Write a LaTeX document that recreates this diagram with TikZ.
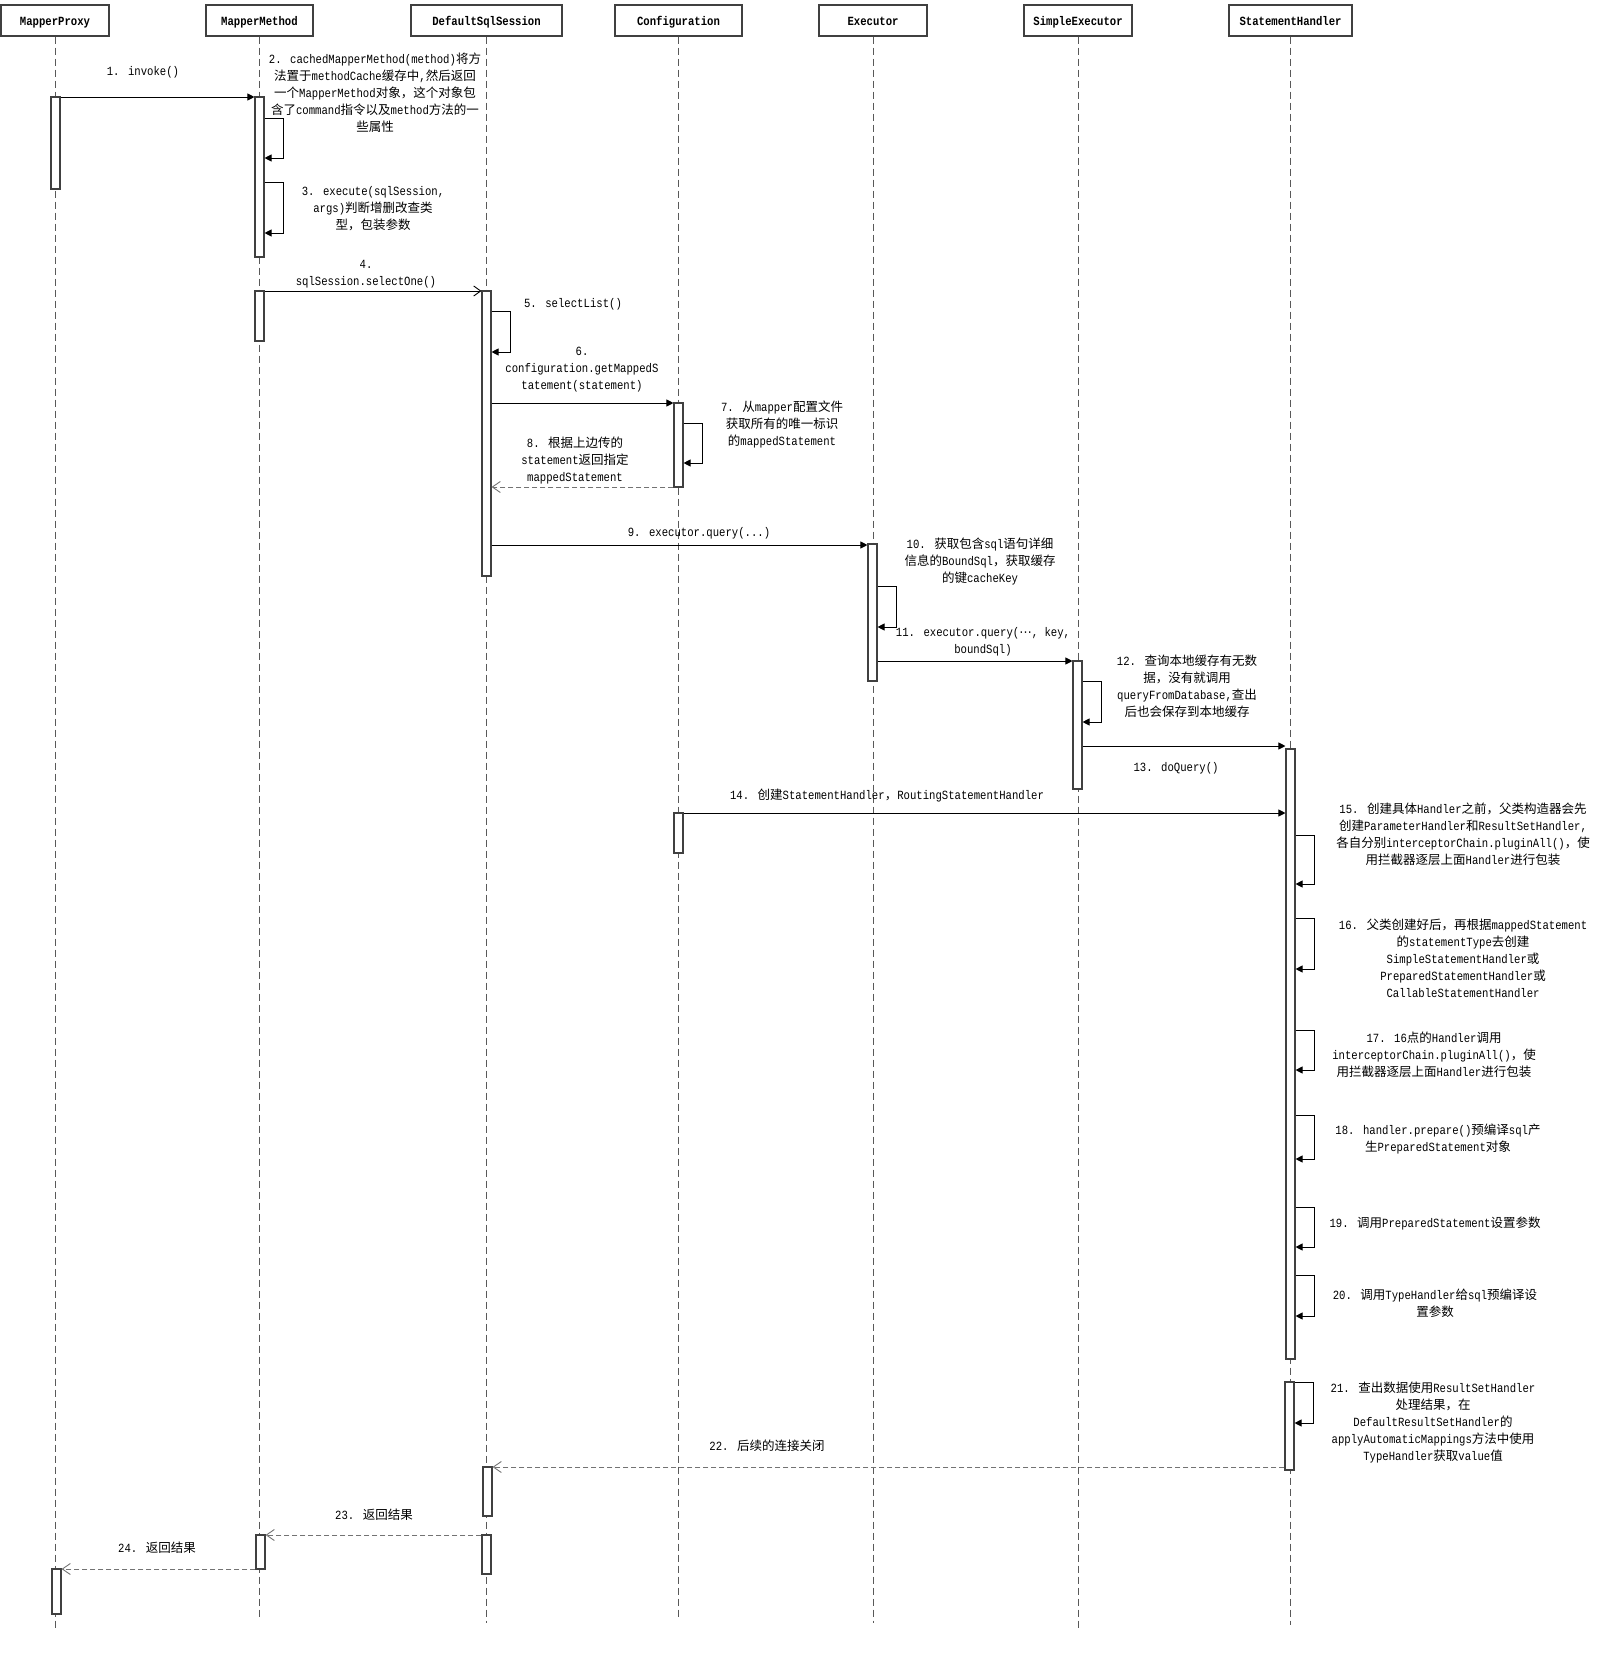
\documentclass[tikz,border=0pt]{standalone}
\usepackage{fontspec}
\setmainfont[FakeStretch=0.85]{Liberation Mono}
\newfontfamily\cjkfont{Noto Sans CJK SC}
\newfontfamily\dvfont{DejaVu Sans}
\usetikzlibrary{arrows.meta}
\XeTeXinterchartokenstate=1
\newXeTeXintercharclass\CJKcls
\makeatletter
\count@="3000
\loop
\XeTeXcharclass\count@=\CJKcls
\ifnum\count@<"9FFF
\advance\count@ by 1
\repeat
\count@="FF00
\loop
\XeTeXcharclass\count@=\CJKcls
\ifnum\count@<"FFEF
\advance\count@ by 1
\repeat
\makeatother
\XeTeXinterchartoks 0 \CJKcls = {\cjkfont}
\XeTeXinterchartoks 4095 \CJKcls = {\cjkfont}
\XeTeXinterchartoks \CJKcls 0 = {\rmfamily}
\XeTeXinterchartoks \CJKcls 4095 = {\rmfamily}
\newcommand\actbox[5]{\node[act,minimum width={#4-#2},minimum height={#5-#3}] (#1) at ({(#2+#4)/2},{(#3+#5)/2}) {};}
\tikzset{
  every node/.style={inner sep=0pt, font=\fontsize{12.5}{17}\selectfont},
  obj/.style={draw=black!75, line width=1.2pt, minimum height=31pt, text height=11pt, text depth=0pt, font=\fontsize{12.5}{15}\selectfont\bfseries},
  life/.style={draw=black!65, line width=0.8pt, dash pattern=on 7pt off 4pt},
  act/.style={draw=black!75, fill=white, line width=1.1pt},
  msg/.style={draw=black, line width=0.9pt, -{Triangle[length=7pt,width=7pt]}},
  msgo/.style={draw=black, line width=0.9pt, -{Straight Barb[length=7pt,width=10pt]}},
  ret/.style={draw=black!55, line width=0.9pt, dash pattern=on 5pt off 3pt, -{Straight Barb[length=8pt,width=11pt]}},
  lbl/.style={align=center}
}
\begin{document}
\begin{tikzpicture}[x=1pt,y=-1pt]
\path[use as bounding box] (0,0) rectangle (1600,1654);
% heads
\node[obj, minimum width=108pt] (hP) at (55,20.5) {MapperProxy};
\node[obj, minimum width=107pt] (hM) at (259.5,20.5) {MapperMethod};
\node[obj, minimum width=151pt] (hD) at (486.5,20.5) {DefaultSqlSession};
\node[obj, minimum width=127pt] (hC) at (678.5,20.5) {Configuration};
\node[obj, minimum width=108pt] (hE) at (873,20.5) {Executor};
\node[obj, minimum width=108pt] (hS) at (1078,20.5) {SimpleExecutor};
\node[obj, minimum width=123pt] (hH) at (1290.5,20.5) {StatementHandler};
% lifelines
\draw[life] (hP.south) -- (hP.south |- 0,1628);
\draw[life] (hM.south) -- (hM.south |- 0,1617);
\draw[life] (hD.south) -- (hD.south |- 0,1623);
\draw[life] (hC.south) -- (hC.south |- 0,1617);
\draw[life] (hE.south) -- (hE.south |- 0,1623);
\draw[life] (hS.south) -- (hS.south |- 0,1628);
\draw[life] (hH.south) -- (hH.south |- 0,1625);
% activation bars
\actbox{bP1}{51}{97}{60}{189}
\actbox{bM1}{255}{97}{264}{257}
\actbox{bM2}{255}{291}{264}{341}
\actbox{bD1}{482}{291}{491}{576}
\actbox{bC1}{674}{403}{683}{487}
\actbox{bE1}{868}{544}{877}{681}
\actbox{bS1}{1073}{661}{1082}{789}
\actbox{bH1}{1286}{749}{1295}{1359}
\actbox{bC2}{674}{813}{683}{853}
\actbox{bH2}{1285}{1382}{1294}{1470}
\actbox{bD2}{483}{1467}{492}{1516}
\actbox{bD3}{482}{1535}{491}{1574}
\actbox{bM3}{256}{1535}{265}{1569}
\actbox{bP2}{52}{1569}{61}{1614}
% messages
\draw[msg] (bP1.east |- 0,97) -- (bM1.west |- 0,97);
\draw[msg] (bM1.east |- 0,118) -- ++(19,0) |- (bM1.east |- 0,158);
\draw[msg] (bM1.east |- 0,182) -- ++(19,0) |- (bM1.east |- 0,233);
\draw[msgo] (bM2.east |- 0,291) -- (bD1.west |- 0,291);
\draw[msg] (bD1.east |- 0,311) -- ++(19,0) |- (bD1.east |- 0,352);
\draw[msg] (bD1.east |- 0,403) -- (bC1.west |- 0,403);
\draw[msg] (bC1.east |- 0,423) -- ++(19,0) |- (bC1.east |- 0,463);
\draw[ret] (bC1.west |- 0,487) -- (bD1.east |- 0,487);
\draw[msg] (bD1.east |- 0,545) -- (bE1.west |- 0,545);
\draw[msg] (bE1.east |- 0,586) -- ++(19,0) |- (bE1.east |- 0,627);
\draw[msg] (bE1.east |- 0,661) -- (bS1.west |- 0,661);
\draw[msg] (bS1.east |- 0,681) -- ++(19,0) |- (bS1.east |- 0,722);
\draw[msg] (bS1.east |- 0,746) -- (bH1.west |- 0,746);
\draw[msg] (bC2.east |- 0,813) -- (bH1.west |- 0,813);
\draw[msg] (bH1.east |- 0,835) -- ++(19,0) |- (bH1.east |- 0,884);
\draw[msg] (bH1.east |- 0,918) -- ++(19,0) |- (bH1.east |- 0,969);
\draw[msg] (bH1.east |- 0,1030) -- ++(19,0) |- (bH1.east |- 0,1070);
\draw[msg] (bH1.east |- 0,1115) -- ++(19,0) |- (bH1.east |- 0,1159);
\draw[msg] (bH1.east |- 0,1207) -- ++(19,0) |- (bH1.east |- 0,1247);
\draw[msg] (bH1.east |- 0,1275) -- ++(19,0) |- (bH1.east |- 0,1316);
\draw[msg] (bH2.east |- 0,1382) -- ++(19,0) |- (bH2.east |- 0,1423);
\draw[ret] (bH2.west |- 0,1467) -- (bD2.east |- 0,1467);
\draw[ret] (bD3.west |- 0,1535) -- (bM3.east |- 0,1535);
\draw[ret] (bM3.west |- 0,1569) -- (bP2.east |- 0,1569);
% labels
\node[lbl] (l1) at (143,72) {1. invoke()};
\node[lbl] (l2) at (375,92.5) {2. cachedMapperMethod(method)将方\\法置于methodCache缓存中,然后返回\\一个MapperMethod对象，这个对象包\\含了command指令以及method方法的一\\些属性};
\node[lbl] (l3) at (373,209) {3. execute(sqlSession,\\args)判断增删改查类\\型，包装参数};
\node[lbl] (l4) at (366,274.5) {4.\\sqlSession.selectOne()};
\node[lbl] (l5) at (573,304) {5. selectList()};
\node[lbl] (l6) at (582,370) {6.\\configuration.getMappedS\\tatement(statement)};
\node[lbl] (l7) at (782,424) {7. 从mapper配置文件\\获取所有的唯一标识\\的mappedStatement};
\node[lbl] (l8) at (575,461) {8. 根据上边传的\\statement返回指定\\mappedStatement};
\node[lbl] (l9) at (699,533) {9. executor.query(...)};
\node[lbl] (l10) at (980,562) {10. 获取包含sql语句详细\\信息的BoundSql，获取缓存\\的键cacheKey};
\node[lbl] (l11) at (983,642) {11. executor.query({\dvfont ⋯}, key,\\boundSql)};
\node[lbl] (l12) at (1187,686) {12. 查询本地缓存有无数\\据，没有就调用\\queryFromDatabase,查出\\后也会保存到本地缓存};
\node[lbl] (l13) at (1176,768) {13. doQuery()};
\node[lbl] (l14) at (887,796) {14. 创建StatementHandler，RoutingStatementHandler};
\node[lbl] (l15) at (1463,834) {15. 创建具体Handler之前，父类构造器会先\\创建ParameterHandler和ResultSetHandler,\\各自分别interceptorChain.pluginAll()，使\\用拦截器逐层上面Handler进行包装};
\node[lbl] (l16) at (1463,958) {16. 父类创建好后，再根据mappedStatement\\的statementType去创建\\SimpleStatementHandler或\\PreparedStatementHandler或\\CallableStatementHandler};
\node[lbl] (l17) at (1434,1055) {17. 16点的Handler调用\\interceptorChain.pluginAll()，使\\用拦截器逐层上面Handler进行包装};
\node[lbl] (l18) at (1438,1139) {18. handler.prepare()预编译sql产\\生PreparedStatement对象};
\node[lbl] (l19) at (1435,1224) {19. 调用PreparedStatement设置参数};
\node[lbl] (l20) at (1435,1303) {20. 调用TypeHandler给sql预编译设\\置参数};
\node[lbl] (l21) at (1433,1423) {21. 查出数据使用ResultSetHandler\\处理结果，在\\DefaultResultSetHandler的\\applyAutomaticMappings方法中使用\\TypeHandler获取value值};
\node[lbl] (l22) at (767,1446) {22. 后续的连接关闭};
\node[lbl] (l23) at (374,1515) {23. 返回结果};
\node[lbl] (l24) at (157,1548) {24. 返回结果};
\end{tikzpicture}
\end{document}
